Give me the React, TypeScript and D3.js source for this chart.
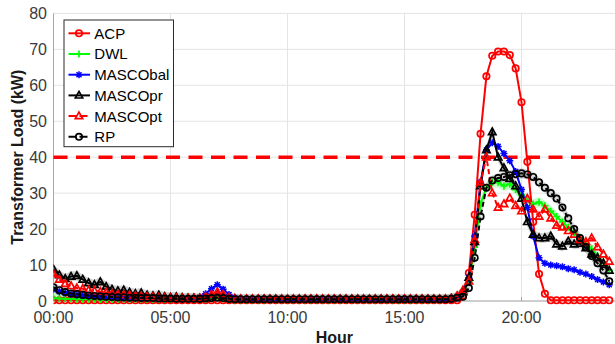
import * as d3 from "d3";

// 15-minute time slots, in hours
const SLOTS = d3.range(96).map((i) => i / 4);
const X_TICKS = [0, 5, 10, 15, 20];
const X_TICK_LABELS = ["00:00", "05:00", "10:00", "15:00", "20:00"];
const Y_TICKS = [0, 10, 20, 30, 40, 50, 60, 70, 80];
const LIMIT_KW = 40;

const ACP = [
  0.2, 0.2, 0.2, 0.2, 0.2, 0.2, 0.2, 0.2, 0.2, 0.2,
  0.2, 0.2, 0.2, 0.2, 0.2, 0.2, 0.2, 0.2, 0.2, 0.2,
  0.2, 0.2, 0.2, 0.2, 0.2, 0.2, 0.2, 0.2, 0.2, 0.2,
  0.2, 0.2, 0.2, 0.2, 0.2, 0.2, 0.2, 0.2, 0.2, 0.2,
  0.2, 0.2, 0.2, 0.2, 0.2, 0.2, 0.2, 0.2, 0.2, 0.2,
  0.2, 0.2, 0.2, 0.2, 0.2, 0.2, 0.2, 0.2, 0.2, 0.2,
  0.2, 0.2, 0.2, 0.2, 0.2, 0.2, 0.2, 0.2, 0.2, 0.2,
  1.5, 7.8, 24, 46.5, 62.5, 68.2, 69.4, 69.4, 68.4, 64.7,
  55.3, 38.7, 22, 7.5, 2, 0.2, 0.2, 0.2, 0.2, 0.2,
  0.2, 0.2, 0.2, 0.2, 0.2, 0.2,
];

const DWL = [
  0.8, 0.7, 0.6, 0.6, 0.5, 0.5, 0.5, 0.5, 0.4, 0.4,
  0.4, 0.4, 0.4, 0.4, 0.4, 0.4, 0.4, 0.4, 0.4, 0.4,
  0.4, 0.4, 0.4, 0.4, 0.4, 0.4, 0.5, 0.6, 0.8, 0.6,
  0.4, 0.3, 0.3, 0.3, 0.3, 0.3, 0.3, 0.3, 0.3, 0.3,
  0.3, 0.3, 0.3, 0.3, 0.3, 0.3, 0.3, 0.3, 0.3, 0.3,
  0.3, 0.3, 0.3, 0.3, 0.3, 0.3, 0.3, 0.3, 0.3, 0.3,
  0.3, 0.3, 0.3, 0.3, 0.3, 0.3, 0.3, 0.4, 0.6, 1.2,
  2.8, 5.5, 15, 27, 31.5, 33, 33, 32, 32.5, 31,
  29.5, 28, 27, 27.5, 26.5, 25, 23.5, 22, 20.5, 19,
  17.5, 16, 14.5, 12.5, 10.5, 8.5,
];

const MASCO_BAL = [
  3.2, 2.6, 2.2, 1.9, 1.7, 1.5, 1.4, 1.3, 1.2, 1.1,
  1.0, 1.0, 0.9, 0.9, 0.8, 0.8, 0.8, 0.7, 0.7, 0.7,
  0.6, 0.6, 0.6, 0.6, 0.7, 1.0, 2.0, 3.4, 4.5, 3.3,
  1.8, 0.9, 0.5, 0.4, 0.4, 0.4, 0.4, 0.4, 0.4, 0.4,
  0.4, 0.4, 0.4, 0.4, 0.4, 0.4, 0.4, 0.4, 0.4, 0.4,
  0.4, 0.4, 0.4, 0.4, 0.4, 0.4, 0.4, 0.4, 0.4, 0.4,
  0.4, 0.4, 0.4, 0.4, 0.4, 0.4, 0.4, 0.5, 0.7, 1.2,
  2.5, 6.5, 18, 33, 42, 44, 43, 41, 39, 36,
  31, 26, 18, 12, 10.5, 10, 9.8, 9.5, 9, 8.7,
  8, 7.5, 6.8, 6, 5.3, 4.5,
];

const MASCO_PR = [
  8.8, 7.2, 6.2, 6.8, 7.0, 6.0, 5.0, 4.5, 5.3, 4.0,
  3.2, 2.8, 3.0, 2.4, 2.0, 2.2, 1.6, 1.4, 1.6, 1.2,
  1.0, 1.1, 0.9, 0.8, 0.8, 0.7, 0.9, 1.2, 1.6, 1.2,
  0.8, 0.6, 0.5, 0.5, 0.5, 0.5, 0.5, 0.5, 0.5, 0.5,
  0.5, 0.5, 0.5, 0.5, 0.5, 0.5, 0.5, 0.5, 0.5, 0.5,
  0.5, 0.5, 0.5, 0.5, 0.5, 0.5, 0.5, 0.5, 0.5, 0.5,
  0.5, 0.5, 0.5, 0.5, 0.5, 0.5, 0.5, 0.5, 0.7, 1.2,
  2.5, 6.5, 16.5, 32, 42, 47, 40, 37, 34, 32,
  28.5, 22, 18.5, 17.5, 17.5, 18, 15.8, 15.2, 16.6, 15.8,
  16, 14.7, 13, 12, 10.5, 8.5,
];

const MASCO_PT = [
  7.5, 6.0, 4.8, 4.2, 3.6, 3.4, 3.0, 2.8, 2.6, 2.4,
  2.0, 1.8, 1.7, 1.6, 1.4, 1.3, 1.2, 1.1, 1.0, 0.9,
  0.8, 0.8, 0.7, 0.7, 0.7, 0.8, 1.2, 1.8, 2.5, 1.8,
  1.0, 0.6, 0.5, 0.5, 0.5, 0.5, 0.5, 0.5, 0.5, 0.5,
  0.5, 0.5, 0.5, 0.5, 0.5, 0.5, 0.5, 0.5, 0.5, 0.5,
  0.5, 0.5, 0.5, 0.5, 0.5, 0.5, 0.5, 0.5, 0.5, 0.5,
  0.5, 0.5, 0.5, 0.5, 0.5, 0.5, 0.5, 0.5, 0.7, 1.4,
  3.0, 5.5, 17, 33, 40, 30, 26, 27, 28.6, 26.5,
  25, 28.5, 25.5, 23.5, 25.5, 23, 21, 20.5, 19.5, 18.5,
  17, 16.5, 17.5, 15, 13, 11,
];

const RP = [
  3.8, 3.0, 2.5, 2.1, 1.9, 1.7, 1.5, 1.4, 1.3, 1.2,
  1.1, 1.0, 1.0, 0.9, 0.9, 0.8, 0.8, 0.8, 0.7, 0.7,
  0.7, 0.6, 0.6, 0.6, 0.6, 0.6, 0.7, 0.8, 0.9, 0.8,
  0.6, 0.5, 0.5, 0.5, 0.5, 0.5, 0.5, 0.5, 0.5, 0.5,
  0.5, 0.5, 0.5, 0.5, 0.5, 0.5, 0.5, 0.5, 0.5, 0.5,
  0.5, 0.5, 0.5, 0.5, 0.5, 0.5, 0.5, 0.5, 0.5, 0.5,
  0.5, 0.5, 0.5, 0.5, 0.5, 0.5, 0.5, 0.5, 0.6, 0.9,
  1.2, 3.6, 12, 23.5, 31.5, 33.5, 34.2, 34.5, 35, 35.3,
  35.5, 35.2, 34.5, 33, 31.5, 30, 28.5, 26, 23, 20,
  17.5, 15, 12.5, 10.5, 8.5, 5.5,
];

type Marker = "circle" | "plus" | "star" | "triangle";

const SERIES: {
  name: string;
  values: number[];
  color: string;
  dash?: string;
  marker: Marker;
  band?: string;
}[] = [
  { name: "ACP", values: ACP, color: "#ff0000", marker: "circle" },
  { name: "DWL", values: DWL, color: "#00ff00", marker: "plus", band: "#9cf59c" },
  { name: "MASCObal", values: MASCO_BAL, color: "#0000ff", marker: "star" },
  { name: "MASCOpr", values: MASCO_PR, color: "#000000", marker: "triangle", band: "#b0b0b0" },
  { name: "MASCOpt", values: MASCO_PT, color: "#ff0000", dash: "5 3", marker: "triangle" },
  { name: "RP", values: RP, color: "#000000", dash: "5 3", marker: "circle", band: "#b8b8b8" },
];

const W = 615;
const H = 344;
const M = { left: 53.5, right: 615.1, top: 13.4, bottom: 301 };
const FONT = "'Liberation Sans', Arial, sans-serif";

function MarkerShape({ type, cx, cy, color }: { type: Marker; cx: number; cy: number; color: string }) {
  const s = 3.5;
  if (type === "circle")
    return <circle cx={cx} cy={cy} r={3.2} fill="none" stroke={color} strokeWidth={1.7} />;
  if (type === "plus")
    return (
      <path
        d={`M${cx - s},${cy}H${cx + s}M${cx},${cy - s}V${cy + s}`}
        stroke={color}
        strokeWidth={1.7}
      />
    );
  if (type === "star") {
    const d = s * 0.72;
    return (
      <path
        d={`M${cx - s},${cy}H${cx + s}M${cx},${cy - s}V${cy + s}M${cx - d},${cy - d}L${cx + d},${cy + d}M${cx - d},${cy + d}L${cx + d},${cy - d}`}
        stroke={color}
        strokeWidth={1.5}
      />
    );
  }
  return (
    <path
      d={`M${cx},${cy - 4}L${cx + 3.7},${cy + 2.6}L${cx - 3.7},${cy + 2.6}Z`}
      fill="none"
      stroke={color}
      strokeWidth={1.7}
      strokeLinejoin="miter"
    />
  );
}

export default function App() {
  const x = d3.scaleLinear().domain([0, 24]).range([M.left, M.right]);
  const y = d3.scaleLinear().domain([0, 80]).range([M.bottom, M.top]);

  const line = d3
    .line<number>()
    .x((_, i) => x(SLOTS[i]))
    .y((d) => y(d));

  const band = d3
    .area<number>()
    .x((_, i) => x(SLOTS[i]))
    .y0((d) => y(Math.max(0, d - 1.4)))
    .y1((d) => y(d + 1.4));

  const legendX = 64;
  const legendY = 20;
  const legendRow = 20.7;

  return (
    <svg
      width={W}
      height={H}
      style={{ position: "absolute", left: 0, top: 0, background: "#fff" }}
      fontFamily={FONT}
    >
      <defs>
        <clipPath id="plot">
          <rect x={M.left} y={M.top - 6} width={M.right - M.left} height={M.bottom - M.top + 12} />
        </clipPath>
      </defs>

      {/* grid */}
      {Y_TICKS.map((t) => (
        <line key={"gy" + t} x1={M.left} x2={M.right} y1={y(t)} y2={y(t)} stroke="#e4e4e4" strokeWidth={1} />
      ))}
      {X_TICKS.map((t) => (
        <line key={"gx" + t} x1={x(t)} x2={x(t)} y1={M.top} y2={M.bottom} stroke="#e4e4e4" strokeWidth={1} />
      ))}

      {/* axes */}
      <line x1={M.left} x2={M.left} y1={M.top} y2={M.bottom} stroke="#a8a8a8" strokeWidth={1} />
      <line x1={M.left} x2={M.right} y1={M.bottom} y2={M.bottom} stroke="#a8a8a8" strokeWidth={1} />
      {X_TICKS.map((t) => (
        <line key={"tx" + t} x1={x(t)} x2={x(t)} y1={M.bottom} y2={M.bottom - 4} stroke="#a8a8a8" />
      ))}

      {Y_TICKS.map((t) => (
        <text key={"ly" + t} x={47} y={y(t)} dy="0.36em" textAnchor="end" fontSize={16} fill="#3a3a3a">
          {t}
        </text>
      ))}
      {X_TICKS.map((t, i) => (
        <text key={"lx" + t} x={x(t)} y={323} textAnchor="middle" fontSize={16} fill="#3a3a3a">
          {X_TICK_LABELS[i]}
        </text>
      ))}

      <text x={(M.left + M.right) / 2} y={342.5} textAnchor="middle" fontSize={16} fontWeight="bold" fill="#1a1a1a">
        Hour
      </text>
      <text
        transform={`translate(23,${(M.top + M.bottom) / 2}) rotate(-90)`}
        textAnchor="middle"
        fontSize={16}
        fontWeight="bold"
        fill="#1a1a1a"
      >
        Transformer Load (kW)
      </text>

      {/* transformer limit */}
      <line
        x1={M.left}
        x2={M.right}
        y1={y(LIMIT_KW)}
        y2={y(LIMIT_KW)}
        stroke="#ff0000"
        strokeWidth={3.5}
        strokeDasharray="14 8.5"
      />

      <g clipPath="url(#plot)">
        {SERIES.filter((s) => s.band).map((s) => (
          <path key={"b" + s.name} d={band(s.values) ?? ""} fill={s.band} opacity={0.55} />
        ))}
        {SERIES.map((s) => (
          <g key={s.name}>
            <path
              d={line(s.values) ?? ""}
              fill="none"
              stroke={s.color}
              strokeWidth={2}
              strokeDasharray={s.dash}
            />
            {s.values.map((v, i) => (
              <MarkerShape key={i} type={s.marker} cx={x(SLOTS[i])} cy={y(v)} color={s.color} />
            ))}
          </g>
        ))}
      </g>

      {/* legend */}
      <rect
        x={legendX}
        y={legendY}
        width={109.5}
        height={126.7}
        fill="#fff"
        stroke="#2b2b2b"
        strokeWidth={1}
      />
      {SERIES.map((s, i) => {
        const cy = legendY + 13.3 + i * legendRow;
        return (
          <g key={"lg" + s.name}>
            <line
              x1={legendX + 4.5}
              x2={legendX + 26}
              y1={cy}
              y2={cy}
              stroke={s.color}
              strokeWidth={2}
              strokeDasharray={s.dash ? "8 3" : undefined}
            />
            <MarkerShape type={s.marker} cx={legendX + 15} cy={cy} color={s.color} />
            <text x={legendX + 30.3} y={cy} dy="0.36em" fontSize={15} fill="#000">
              {s.name}
            </text>
          </g>
        );
      })}
    </svg>
  );
}
